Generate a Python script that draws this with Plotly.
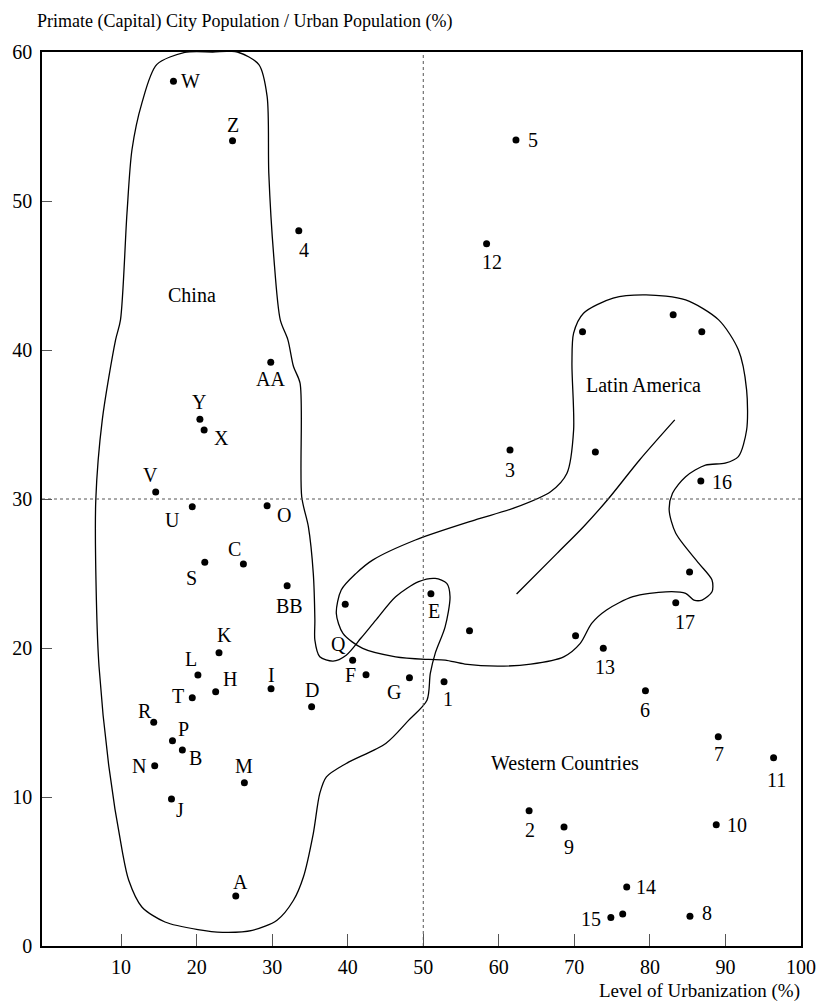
import plotly.graph_objects as go

# ---------------- data ----------------
point_labels = ["W", "Z", "4", "AA", "Y", "X", "V", "U", "O", "C", "S", "BB",
                "K", "L", "H", "T", "I", "D", "R", "P", "B", "N", "M", "J", "A",
                "Q", "F", "E", "G", "1", "", "", "5", "12", "", "", "", "3", "",
                "16", "", "17", "", "13", "6", "7", "11", "2", "9", "10", "14",
                "15", "", "8"]
urbanization = [16.93, 24.75, 33.52, 29.81, 20.43, 20.99, 14.58, 19.42, 29.33, 26.19, 21.08, 31.98,
                22.96, 20.17, 22.52, 19.42, 29.85, 35.22, 14.32, 16.80, 18.11, 14.45, 26.32, 16.67, 25.18,
                40.65, 42.42, 51.01, 48.17, 52.75, 39.67, 56.12, 62.27, 58.38, 71.08, 83.08, 86.87, 61.48, 72.78,
                86.74, 85.25, 83.42, 70.16, 73.83, 79.41, 89.05, 96.37, 64.01, 68.63, 88.78, 76.93,
                74.83, 76.40, 85.30]
primacy = [58.03, 54.04, 48.01, 39.18, 35.35, 34.63, 30.47, 29.48, 29.55, 25.63, 25.75, 24.18,
           19.68, 18.18, 17.06, 16.66, 17.26, 16.05, 15.02, 13.77, 13.16, 12.09, 10.95, 9.87, 3.36,
           19.17, 18.20, 23.64, 18.00, 17.73, 22.93, 21.16, 54.09, 47.13, 41.22, 42.36, 41.22, 33.29, 33.16,
           31.21, 25.10, 23.04, 20.82, 19.99, 17.13, 14.04, 12.63, 9.07, 7.99, 8.13, 3.96,
           1.91, 2.15, 1.99]

# region outlines (data coordinates)
china_x = [14.71, 18.43, 22.13, 25.40, 28.24, 29.33, 29.55, 30.21, 31.07, 32.08, 32.82, 33.69, 33.91,
           34.79, 35.44, 35.65, 35.65, 36.30, 38.06, 39.80, 41.76, 43.72, 46.34, 49.39, 51.58, 53.11,
           53.54, 52.89, 51.58, 50.93, 50.49, 48.08, 45.03, 39.80, 37.18, 36.30, 35.44, 34.13, 32.82,
           30.64, 27.37, 23.44, 20.17, 15.81, 12.75, 11.01, 10.13, 8.39, 7.08, 6.73, 6.65, 7.51, 9.27,
           9.92, 10.78, 11.44, 12.75, 14.71]
china_y = [59.15, 59.97, 60.0, 60.0, 59.15, 57.02, 51.87, 46.27, 42.02, 40.68, 38.89, 37.77, 30.15,
           28.14, 25.01, 21.87, 20.53, 19.41, 19.12, 19.52, 20.67, 21.87, 23.44, 24.45, 24.67, 24.34,
           23.44, 21.42, 19.64, 18.29, 16.50, 15.16, 13.59, 12.25, 11.35, 10.24, 7.55, 4.63, 3.07,
           1.73, 1.05, 0.92, 1.10, 1.61, 2.62, 4.41, 6.43, 12.02, 18.74, 23.22, 29.93, 35.31, 40.68,
           42.02, 49.19, 53.44, 56.57, 59.15]

latin_x = [43.29, 48.96, 56.81, 62.05, 66.85, 69.02, 69.90, 69.68, 69.90, 71.21, 75.13, 79.49, 84.73,
           89.10, 91.71, 92.80, 92.80, 91.71, 89.96, 87.35, 84.73, 82.99, 82.55, 83.42, 86.48, 88.22,
           88.22, 86.91, 85.83, 84.73, 82.11, 77.75, 74.26, 72.29, 70.78, 68.59, 64.23, 59.86, 55.50,
           52.89, 50.70, 46.34, 41.98, 39.37, 38.49, 39.14, 41.11, 43.29]
latin_y = [25.90, 27.25, 28.59, 29.40, 30.49, 31.73, 34.63, 39.11, 41.13, 42.47, 43.48, 43.70, 43.36,
           42.02, 40.01, 37.32, 34.63, 32.84, 32.40, 32.28, 31.50, 30.38, 29.26, 27.70, 25.68, 24.56,
           23.77, 23.22, 23.22, 23.67, 23.77, 23.44, 22.55, 21.65, 20.31, 19.41, 18.92, 18.78, 18.92,
           19.19, 19.23, 19.41, 19.97, 20.98, 22.32, 23.89, 25.01, 25.90]

trend_x = [62.35, 67.71, 71.21, 74.48, 78.63, 83.29]
trend_y = [23.62, 26.35, 28.14, 30.00, 32.62, 35.31]

region_names = ["China", "Latin America", "Western Countries"]
region_x = [19.4, 79.15, 68.81]
region_y = [43.7, 37.66, 12.25]

x_ticks = [10, 20, 30, 40, 50, 60, 70, 80, 90, 100]
y_ticks = [0, 10, 20, 30, 40, 50, 60]
x_ref, y_ref = 50, 30

y_title = "Primate (Capital) City Population / Urban Population (%)"
x_title = "Level of Urbanization (%)"

# label offsets in pixels (dx right, dy down)
label_dx = [17, 0, 5, 0, -1, 17, -5, -20, 17, -9, -13, 2,
            5, -7, 14, -14, 0, 0, -9, 11, 13, -16, 0, 9, 5,
            -14, -16, 3, -15, 4, 0, 0, 17, 5, 0, 0, 0, 0, 0,
            21, 0, 9, 0, 2, 0, 1, 3, 1, 5, 21, 19,
            -20, 0, 17]
label_dy = [0, -16, 19, 17, -17, 8, -17, 13, 9, -15, 16, 20,
            -18, -16, -13, -2, -14, -17, -11, -12, 8, 0, -17, 11, -14,
            -16, 0, 17, 14, 17, 0, 0, 0, 18, 0, 0, 0, 20, 0,
            1, 0, 19, 0, 19, 19, 17, 22, 19, 20, 0, 0,
            1, 0, -3]

FONT = "Liberation Serif, Times New Roman, serif"
FS = 20

fig = go.Figure()

for ox, oy in ((china_x, china_y), (latin_x, latin_y), (trend_x, trend_y)):
    fig.add_trace(go.Scatter(x=ox, y=oy, mode="lines",
                             line=dict(color="black", width=1.3, shape="spline", smoothing=0.8),
                             hoverinfo="skip", showlegend=False))

fig.add_trace(go.Scatter(x=urbanization, y=primacy, mode="markers",
                         marker=dict(color="black", size=7),
                         text=point_labels, showlegend=False))

annotations = []
for lab, x, y, dx, dy in zip(point_labels, urbanization, primacy, label_dx, label_dy):
    if not lab:
        continue
    annotations.append(dict(x=x, y=y, xref="x", yref="y", text=lab, showarrow=False,
                            xanchor="center", yanchor="middle", xshift=dx, yshift=-dy,
                            font=dict(family=FONT, size=FS, color="black")))
for name, x, y in zip(region_names, region_x, region_y):
    annotations.append(dict(x=x, y=y, xref="x", yref="y", text=name, showarrow=False,
                            xanchor="center", yanchor="middle",
                            font=dict(family=FONT, size=FS, color="black")))
annotations.append(dict(x=0, y=1, xref="paper", yref="paper", text=y_title, showarrow=False,
                        xanchor="left", yanchor="middle", xshift=-7, yshift=31,
                        font=dict(family=FONT, size=18, color="black")))
annotations.append(dict(x=1, y=0, xref="paper", yref="paper", text=x_title, showarrow=False,
                        xanchor="right", yanchor="middle", xshift=1, yshift=-45,
                        font=dict(family=FONT, size=19, color="black")))

shapes = [
    dict(type="line", xref="x", yref="y", x0=x_ref, x1=x_ref, y0=0, y1=60,
         line=dict(color="#555555", width=1, dash="dot")),
    dict(type="line", xref="x", yref="y", x0=-0.47, x1=100, y0=y_ref, y1=y_ref,
         line=dict(color="#555555", width=1, dash="dot")),
]

fig.update_layout(
    width=828, height=1002,
    margin=dict(l=42, r=18, t=52, b=56),
    paper_bgcolor="white", plot_bgcolor="white",
    font=dict(family=FONT, size=FS, color="black"),
    annotations=annotations, shapes=shapes,
    xaxis=dict(range=[-0.47, 100], tickvals=x_ticks, ticktext=[str(v) for v in x_ticks],
               ticks="inside", ticklen=12, tickcolor="#555555", tickwidth=1,
               showgrid=False, zeroline=False, showline=True, linecolor="black",
               linewidth=1.5, mirror=True, ticklabelstandoff=2,
               tickfont=dict(family=FONT, size=FS, color="black")),
    yaxis=dict(range=[0, 60], tickvals=y_ticks, ticktext=[str(v) for v in y_ticks],
               ticks="inside", ticklen=10, tickcolor="#555555", tickwidth=1,
               showgrid=False, zeroline=False, showline=True, linecolor="black",
               linewidth=1.5, mirror=True, ticklabelstandoff=4,
               tickfont=dict(family=FONT, size=FS, color="black")),
    hovermode=False,
)

fig.write_html("out.html")
